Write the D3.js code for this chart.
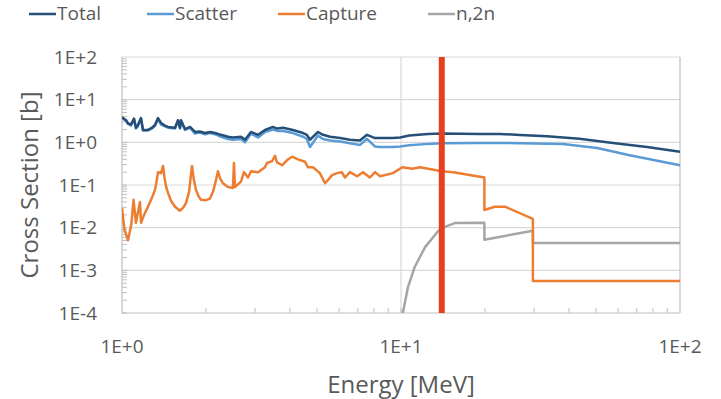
<!DOCTYPE html>
<html>
<head>
<meta charset="utf-8">
<script src="https://cdn.jsdelivr.net/npm/d3@7"></script>
<style>
  html, body { margin: 0; padding: 0; background: #fff; }
  #chart { width: 721px; height: 399px; }
  text { font-family: "Open Sans", "Noto Sans", sans-serif; fill: #595959; }
</style>
</head>
<body>
<div id="chart"></div>
<script>
// --- Data: [energy MeV, cross section b] ---
const totalData = [
  [1.00, 3.9], [1.02, 3.5], [1.034, 3.3], [1.05, 2.8], [1.077, 2.6], [1.104, 3.6], [1.122, 2.2],
  [1.14, 2.5], [1.17, 3.7], [1.189, 1.95], [1.239, 1.95], [1.28, 2.2], [1.313, 2.55],
  [1.346, 3.7], [1.38, 2.85], [1.42, 2.5], [1.462, 2.3], [1.549, 2.2], [1.587, 3.3],
  [1.614, 2.2], [1.627, 3.3], [1.682, 2.05], [1.753, 2.3], [1.827, 1.75], [1.9, 1.8],
  [1.984, 1.66], [2.07, 1.75], [2.154, 1.66], [2.264, 1.5], [2.399, 1.35], [2.499, 1.3],
  [2.67, 1.35], [2.76, 1.15], [2.9, 1.75], [3.073, 1.5], [3.254, 1.95], [3.477, 2.3],
  [3.6, 2.1], [3.78, 2.2], [4.10, 1.95], [4.455, 1.65], [4.6, 1.5], [4.72, 1.15], [5.04, 1.75],
  [5.25, 1.5], [5.57, 1.35], [6.05, 1.26], [6.56, 1.15], [7.13, 1.1], [7.55, 1.5], [8.07, 1.26],
  [8.41, 1.26], [9.36, 1.26], [9.92, 1.30], [10.7, 1.45], [12.5, 1.57], [14.0, 1.60],
  [19.2, 1.57], [22.6, 1.57], [26.7, 1.49], [33.4, 1.38], [43.6, 1.22], [57.5, 0.97],
  [76.2, 0.78], [100, 0.60]
];

const scatterData = [
  [1.00, 3.8], [1.02, 3.4], [1.034, 3.2], [1.05, 2.7], [1.077, 2.5], [1.104, 3.5], [1.122, 2.1],
  [1.14, 2.4], [1.17, 3.6], [1.189, 1.9], [1.239, 1.9], [1.28, 2.1], [1.313, 2.45],
  [1.346, 3.5], [1.38, 2.6], [1.42, 2.4], [1.462, 2.2], [1.549, 2.1], [1.587, 3.2],
  [1.614, 2.1], [1.627, 3.2], [1.682, 1.95], [1.753, 2.2], [1.827, 1.6], [1.9, 1.7],
  [1.984, 1.55], [2.07, 1.65], [2.154, 1.55], [2.264, 1.35], [2.399, 1.2], [2.499, 1.15],
  [2.67, 1.2], [2.76, 1.0], [2.9, 1.6], [3.073, 1.3], [3.254, 1.75], [3.477, 2.0],
  [3.6, 1.85], [3.78, 1.85], [4.10, 1.65], [4.455, 1.35], [4.6, 1.2], [4.72, 0.78], [5.04, 1.45],
  [5.25, 1.2], [5.57, 1.1], [6.05, 1.05], [6.56, 0.95], [7.13, 0.87], [7.55, 1.2], [8.07, 0.8],
  [8.41, 0.78], [9.36, 0.78], [9.92, 0.80], [10.7, 0.85], [12.5, 0.92], [14.0, 0.95],
  [19.2, 0.97], [22.6, 0.97], [26.7, 0.95], [38.0, 0.91], [50.5, 0.74], [66.0, 0.50],
  [100, 0.29]
];

const captureData = [
  [1.00, 0.029], [1.02, 0.009], [1.051, 0.0051], [1.08, 0.012], [1.10, 0.045], [1.122, 0.013],
  [1.16, 0.040], [1.17, 0.013], [1.2, 0.02], [1.239, 0.031], [1.28, 0.05], [1.313, 0.077],
  [1.33, 0.12], [1.346, 0.20], [1.38, 0.19], [1.403, 0.28], [1.42, 0.15], [1.44, 0.09],
  [1.462, 0.065], [1.5, 0.042], [1.549, 0.031], [1.614, 0.025], [1.66, 0.03], [1.696, 0.038],
  [1.74, 0.07], [1.76, 0.14], [1.782, 0.28], [1.81, 0.13], [1.842, 0.077], [1.88, 0.055],
  [1.919, 0.045], [2.0, 0.044], [2.067, 0.048], [2.12, 0.07], [2.172, 0.13], [2.208, 0.21],
  [2.25, 0.14], [2.30, 0.11], [2.399, 0.09], [2.499, 0.085], [2.519, 0.33], [2.54, 0.09],
  [2.67, 0.12], [2.737, 0.20], [2.829, 0.15], [2.90, 0.21], [3.073, 0.20], [3.254, 0.26],
  [3.31, 0.33], [3.45, 0.36], [3.535, 0.48], [3.594, 0.34], [3.746, 0.29], [3.9, 0.38],
  [4.068, 0.46], [4.274, 0.40], [4.53, 0.35], [4.642, 0.26], [4.84, 0.26], [5.12, 0.19],
  [5.34, 0.11], [5.47, 0.13], [5.66, 0.17], [5.90, 0.19], [6.13, 0.20], [6.30, 0.15],
  [6.56, 0.20], [6.96, 0.16], [7.31, 0.20], [7.74, 0.15], [8.07, 0.20], [8.41, 0.16],
  [9.36, 0.19], [10.1, 0.26], [11.0, 0.24], [11.7, 0.26], [12.5, 0.24], [14.0, 0.21],
  [15.4, 0.20], [19.9, 0.15], [19.9, 0.026], [21.7, 0.031], [23.6, 0.031], [29.7, 0.016],
  [29.7, 0.00056], [100, 0.00056]
];

const n2nData = [
  [10.15, 0.0001], [10.6, 0.00041], [11.2, 0.0012], [12.2, 0.0035], [13.5, 0.0079],
  [14.1, 0.010], [15.6, 0.0128], [19.9, 0.013], [19.9, 0.0052], [29.7, 0.0085],
  [29.7, 0.0044], [100, 0.0044]
];

const markerEnergy = 14;
const xTickValues = [1, 10, 100];
const yTickValues = [1e-4, 1e-3, 1e-2, 1e-1, 1, 10, 100];
const xTickLabels = ['1E+0', '1E+1', '1E+2'];
const yTickLabels = ['1E-4', '1E-3', '1E-2', '1E-1', '1E+0', '1E+1', '1E+2'];

const series = [
  { name: 'Total', data: totalData, color: '#264f78' },
  { name: 'Scatter', data: scatterData, color: '#5b9bd5' },
  { name: 'Capture', data: captureData, color: '#ed7d31' },
  { name: 'n,2n', data: n2nData, color: '#a5a5a5' }
];

// --- Layout ---
const W = 721, H = 399;
const margin = { top: 57, right: 41, bottom: 86, left: 122 };
const width = W - margin.left - margin.right;
const height = H - margin.top - margin.bottom;

const svg = d3.select('#chart').append('svg')
  .attr('width', W).attr('height', H);

const g = svg.append('g')
  .attr('transform', `translate(${margin.left},${margin.top})`);

const x = d3.scaleLog().domain([1, 100]).range([0, width]);
const y = d3.scaleLog().domain([1e-4, 100]).range([height, 0]);

// --- Grid ---
g.append('g').selectAll('line')
  .data(yTickValues.slice(1))
  .join('line')
    .attr('x1', 0).attr('x2', width)
    .attr('y1', d => y(d)).attr('y2', d => y(d))
    .attr('stroke', '#d9d9d9').attr('stroke-width', 1.2);

g.append('g').selectAll('line')
  .data(xTickValues.slice(1))
  .join('line')
    .attr('x1', d => x(d)).attr('x2', d => x(d))
    .attr('y1', 0).attr('y2', height)
    .attr('stroke', d => d === 100 ? '#bfbfbf' : '#d9d9d9').attr('stroke-width', 1.2);

// --- Minor ticks (log 2..9 per decade) ---
const minorX = [];
for (let dec = 1; dec < 100; dec *= 10) for (let k = 2; k <= 9; k++) minorX.push(dec * k);
const minorY = [];
for (let dec = 1e-4; dec < 100; dec *= 10) for (let k = 1; k <= 9; k++) minorY.push(dec * k);

g.append('g').selectAll('line')
  .data(minorX.concat([10]))
  .join('line')
    .attr('x1', d => x(d)).attr('x2', d => x(d))
    .attr('y1', height).attr('y2', height - 5)
    .attr('stroke', '#bfbfbf');

g.append('g').selectAll('line')
  .data(minorY)
  .join('line')
    .attr('x1', 0).attr('x2', 5)
    .attr('y1', d => y(d)).attr('y2', d => y(d))
    .attr('stroke', '#bfbfbf');

// axis lines
g.append('line').attr('x1', 0).attr('x2', 0).attr('y1', 0).attr('y2', height)
  .attr('stroke', '#bfbfbf').attr('stroke-width', 1.2);
g.append('line').attr('x1', 0).attr('x2', width).attr('y1', height).attr('y2', height)
  .attr('stroke', '#bfbfbf').attr('stroke-width', 1.2);

// --- Tick labels ---
g.append('g').selectAll('text')
  .data(yTickValues)
  .join('text')
    .attr('x', -25)
    .attr('y', d => y(d))
    .attr('dy', '0.35em')
    .attr('text-anchor', 'end')
    .style('font-size', '19px')
    .text((d, i) => yTickLabels[i]);

g.append('g').selectAll('text')
  .data(xTickValues)
  .join('text')
    .attr('x', d => x(d))
    .attr('y', height + 40)
    .attr('text-anchor', 'middle')
    .style('font-size', '19px')
    .text((d, i) => xTickLabels[i]);

// --- Axis titles ---
svg.append('text')
  .attr('x', margin.left + width / 2)
  .attr('y', 393)
  .attr('text-anchor', 'middle')
  .style('font-size', '24px')
  .text('Energy [MeV]');

svg.append('text')
  .attr('transform', `translate(38,${margin.top + height / 2}) rotate(-90)`)
  .attr('text-anchor', 'middle')
  .style('font-size', '24px')
  .text('Cross Section [b]');

// --- Lines ---
svg.append('defs').append('clipPath').attr('id', 'plot-clip')
  .append('rect').attr('x', 0).attr('y', -2).attr('width', width + 2).attr('height', height + 2);

const line = d3.line()
  .x(d => x(d[0]))
  .y(d => y(d[1]));

const lines = g.append('g').attr('clip-path', 'url(#plot-clip)');
// draw in reverse so Total sits on top like the original
series.slice().reverse().forEach(s => {
  lines.append('path')
    .datum(s.data)
    .attr('fill', 'none')
    .attr('stroke', s.color)
    .attr('stroke-width', 2.5)
    .attr('stroke-linejoin', 'round')
    .attr('d', line);
});

// 14 MeV marker
g.append('line')
  .attr('x1', x(markerEnergy)).attr('x2', x(markerEnergy))
  .attr('y1', 0).attr('y2', height)
  .attr('stroke', '#e8401c').attr('stroke-width', 6);

// --- Legend ---
const legendPos = [29, 147, 278, 428];
const legend = svg.append('g');
series.forEach((s, i) => {
  const lx = legendPos[i];
  legend.append('line')
    .attr('x1', lx).attr('x2', lx + 27)
    .attr('y1', 14).attr('y2', 14)
    .attr('stroke', s.color).attr('stroke-width', 2.5);
  legend.append('text')
    .attr('x', lx + 28).attr('y', 20)
    .style('font-size', '19px')
    .text(s.name);
});
</script>
</body>
</html>
